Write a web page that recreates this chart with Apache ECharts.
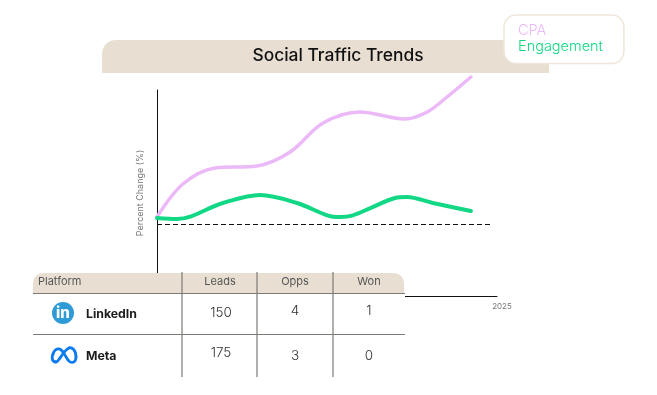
<!DOCTYPE html>
<html><head><meta charset="utf-8">
<style>html,body{margin:0;padding:0;background:#fff}#c{width:657px;height:395px}</style>
<script src="https://cdn.jsdelivr.net/npm/echarts@6/dist/echarts.min.js"></script>
</head><body><div id="c"></div>
<script>
const chartTitle = 'Social Traffic Trends';
const yAxisTitle = 'Percent Change (%)';
const cpaPeriods = [0,0.99,2.22,3.82,5.09,6.35,7.76,9.48,10.33,11.09,12];
const cpa = [3.5,20,28,29,36,50.5,56,52.5,56,63.5,73.5];
const engagementPeriods = [0,0.76,2.52,3.94,5.35,6.54,7,7.46,8.2,9.1,9.56,10.55,12];
const engagement = [3,2.5,10.5,14.5,10.5,4.2,3.5,4.2,8.2,13,13.5,10.5,6.5];
const xTickLabels = {13:'2025'};
const tableHeaders = ['Platform','Leads','Opps','Won'];
const platforms = ['LinkedIn','Meta'];
const leads = [150,175];
const opps = [4,3];
const won = [1,0];

const FONT = 'Inter';
const BEIGE = '#e8dfd2';
const RULE = '#7d7a76';
const Z = 100;
const colX = [182,257,333,405];
const colCenter = [220,295,369];
const nameY = [314,356];
const leadsY = [312.5,352.5];
const countY = [310.7,355.7];
const t = (text,x,y,size,color,align,weight) => ({type:'text',z:Z+2,style:{text:String(text),x,y,fontFamily:FONT,fontSize:size,fill:color,align:align||'center',verticalAlign:'middle',fontWeight:weight||300}});
const ln = (x1,y1,x2,y2,w) => ({type:'line',z:Z+1,shape:{x1,y1,x2,y2},style:{stroke:RULE,lineWidth:w||1.2}});
const bz = (x1,y1,cpx1,cpy1,cpx2,cpy2,x2,y2) => ({type:'bezierCurve',z:Z+1,shape:{x1,y1,cpx1,cpy1,cpx2,cpy2,x2,y2},style:{fill:'none',stroke:'#0a7cf0',lineWidth:2.8,lineCap:'round'}});

const tableEls = [
  {type:'rect',z:Z,shape:{x:33,y:273,width:372,height:104,r:[10,10,8,8]},style:{fill:'#fff'}},
  {type:'rect',z:Z,shape:{x:33,y:273,width:371,height:20,r:[10,10,0,0]},style:{fill:BEIGE}},
  ln(33,293.5,405,293.5), ln(33,334.5,405,334.5),
  ln(colX[0],272,colX[0],377), ln(colX[1],272,colX[1],377), ln(colX[2],272,colX[2],377),
  t(tableHeaders[0],38,282,11,'#555','left',400)
];
colCenter.forEach((x,i)=>tableEls.push(t(tableHeaders[i+1],x,282,11,'#555','center',400)));
platforms.forEach((p,i)=>{
  tableEls.push(t(p,86,nameY[i],12.3,'#1c1c1c','left',700));
  tableEls.push(t(leads[i],colCenter[0]+1,leadsY[i],13.5,'#333'));
  tableEls.push(t(opps[i],colCenter[1],countY[i],13.5,'#333'));
  tableEls.push(t(won[i],colCenter[2],countY[i],13.5,'#333'));
});
tableEls.push({type:'circle',z:Z+1,shape:{cx:63,cy:313,r:11},style:{fill:'#2e9bd6'}});
tableEls.push(t('in',63,313,15,'#fff','center',800));
tableEls.push(
  bz(56,362, 51,362, 52,356, 53,354),
  bz(53,354, 55,348, 60,347, 63,352),
  {type:'line',z:Z+1,shape:{x1:63,y1:352,x2:68,y2:360},style:{stroke:'#0a7cf0',lineWidth:2.8,lineCap:'round'}},
  bz(68,360, 71,364, 76,363, 76,357),
  bz(76,357, 76,350, 72,347, 69,348),
  bz(69,348, 66,349, 64,352, 60,358),
  bz(60,358, 58,361, 57,362, 56,362)
);

const chart = echarts.init(document.getElementById('c'),null,{renderer:'canvas'});
chart.setOption({
  animation:false,
  backgroundColor:'#fff',
  title:{text:chartTitle,left:333,top:42.5,textAlign:'center',textStyle:{fontFamily:FONT,fontSize:17.4,fontWeight:500,color:'#111'}},
  legend:{
    left:504,top:15,orient:'vertical',icon:'rect',itemWidth:0,itemHeight:0,itemGap:1.5,padding:[8,21,9,9],
    backgroundColor:'#fff',borderColor:'#efe6da',borderWidth:1.5,borderRadius:12,selectedMode:false,z:20,
    data:[{name:'CPA',textStyle:{color:'#ecb9f8'}},{name:'Engagement',textStyle:{color:'#12d885'}}],
    textStyle:{fontFamily:FONT,fontSize:14.5,fontWeight:300}
  },
  grid:{left:157,right:160,top:90,bottom:99},
  xAxis:{type:'value',min:0,max:13,interval:13,
    axisLine:{onZero:false,lineStyle:{color:'#111',width:1}},axisTick:{show:false},splitLine:{show:false},
    axisLabel:{color:'#777',fontFamily:FONT,fontSize:8,margin:7,padding:[0,0,0,10],formatter:v=>xTickLabels[v]||''}},
  yAxis:{type:'value',min:-36,max:67,
    name:yAxisTitle,nameLocation:'middle',nameGap:12,nameRotate:90,nameTextStyle:{color:'#777',fontFamily:FONT,fontSize:9},
    axisLine:{show:true,onZero:false,lineStyle:{color:'#111',width:1}},axisTick:{show:false},axisLabel:{show:false},splitLine:{show:false}},
  graphic:[
    {type:'rect',z:0,shape:{x:102,y:40,width:447,height:33,r:[14,0,0,0]},style:{fill:BEIGE}},
    ...tableEls
  ],
  series:[
    {name:'CPA',type:'line',smooth:0.34,symbol:'none',clip:false,data:cpaPeriods.map((p,i)=>[p,cpa[i]]),
     lineStyle:{color:'#ecb9f8',width:3.5,cap:'round'},itemStyle:{color:'#ecb9f8'},
     markLine:{silent:true,symbol:'none',label:{show:false},lineStyle:{color:'#111',type:[5,3],width:1},
       data:[[{coord:[0,0]},{coord:[12.75,0]}]]}},
    {name:'Engagement',type:'line',smooth:0.34,symbol:'none',clip:false,data:engagementPeriods.map((p,i)=>[p,engagement[i]]),
     lineStyle:{color:'#12d885',width:4,cap:'round'},itemStyle:{color:'#12d885'}}
  ]
});
</script></body></html>
